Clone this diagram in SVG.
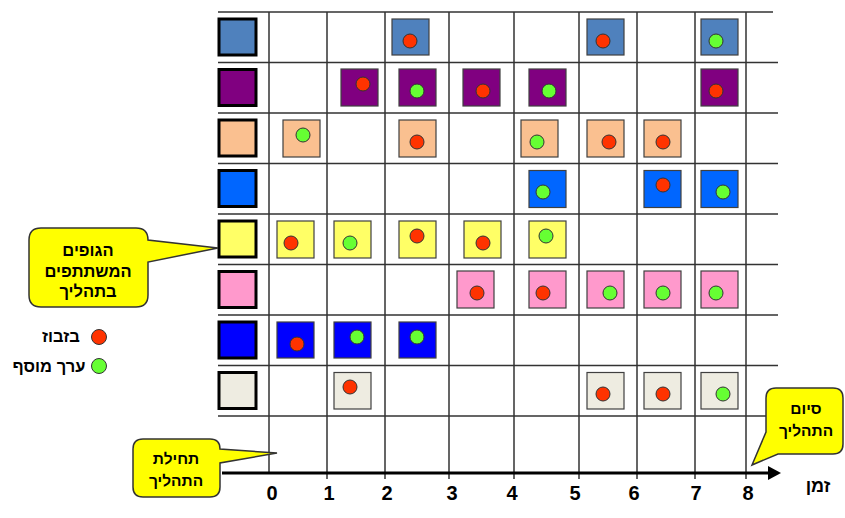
<svg xmlns="http://www.w3.org/2000/svg" width="845" height="518" viewBox="0 0 845 518">
<style>
.g{stroke:#333;stroke-width:1.5;fill:none}
.h{stroke:#000;stroke-width:3}
.s{stroke:#404040;stroke-width:1.2}
.r{fill:#FF3300;stroke:#333;stroke-width:1}
.gr{fill:#66FF33;stroke:#333;stroke-width:1}
.c{fill:#FFFF00;stroke:#333;stroke-width:1.5}
.t{font-family:"Liberation Sans",Arial,sans-serif;font-weight:bold;fill:#000}
.c1{fill:#4F81BD}.c2{fill:#800080}.c3{fill:#FAC090}.c4{fill:#0066FF}
.c5{fill:#FFFF66}.c6{fill:#FF99CC}.c7{fill:#0000FF}.c8{fill:#EEECE1}
</style>
<rect width="845" height="518" fill="#fff"/>
<g id="grid" class="g">
<path d="M218 12H773M218 62.5H778M218 113H778M218 163.5H778M218 214H778M218 264.5H778M218 315H778M218 365.5H778M218 416H778"/>
<path d="M269 12V473M327 12V479M385 12V479M449 12V479M514 12V479M579 12V479M637 12V479M695 12V479M746 12V479"/>
</g>
<g id="connectors">
<line x1="222" y1="473" x2="770" y2="473" stroke="#000" stroke-width="3"/>
<polygon points="768,466 781,473 768,480" fill="#000"/>
</g>
<g id="headers">
<g id="h1"><rect class="h c1" x="219" y="19" width="37" height="36"/></g>
<g id="h2"><rect class="h c2" x="219" y="69.5" width="37" height="36"/></g>
<g id="h3"><rect class="h c3" x="219" y="120" width="37" height="36"/></g>
<g id="h4"><rect class="h c4" x="219" y="170.5" width="37" height="36"/></g>
<g id="h5"><rect class="h c5" x="219" y="221" width="37" height="36"/></g>
<g id="h6"><rect class="h c6" x="219" y="271.5" width="37" height="36"/></g>
<g id="h7"><rect class="h c7" x="219" y="322" width="37" height="36"/></g>
<g id="h8"><rect class="h c8" x="219" y="372.5" width="37" height="36"/></g>
</g>
<g id="row1">
<g id="r1a"><rect class="s c1" x="392" y="19" width="37" height="36"/><circle class="r" cx="410" cy="41" r="7"/></g>
<g id="r1b"><rect class="s c1" x="587" y="19" width="37" height="36"/><circle class="r" cx="603" cy="41" r="7"/></g>
<g id="r1c"><rect class="s c1" x="701" y="19" width="37" height="36"/><circle class="gr" cx="716" cy="41" r="7"/></g>
</g>
<g id="row2">
<g id="r2a"><rect class="s c2" x="341" y="69" width="37" height="37"/><circle class="r" cx="363" cy="84" r="7"/></g>
<g id="r2b"><rect class="s c2" x="399" y="69" width="37" height="37"/><circle class="gr" cx="417" cy="91" r="7"/></g>
<g id="r2c"><rect class="s c2" x="463" y="69" width="37" height="37"/><circle class="r" cx="483" cy="91" r="7"/></g>
<g id="r2d"><rect class="s c2" x="529" y="69" width="37" height="37"/><circle class="gr" cx="549" cy="91" r="7"/></g>
<g id="r2e"><rect class="s c2" x="701" y="69" width="37" height="37"/><circle class="r" cx="716" cy="91" r="7"/></g>
</g>
<g id="row3">
<g id="r3a"><rect class="s c3" x="283" y="120" width="37" height="37"/><circle class="gr" cx="303" cy="135" r="7"/></g>
<g id="r3b"><rect class="s c3" x="399" y="120" width="37" height="37"/><circle class="r" cx="417" cy="142" r="7"/></g>
<g id="r3c"><rect class="s c3" x="521" y="120" width="37" height="37"/><circle class="gr" cx="537" cy="142" r="7"/></g>
<g id="r3d"><rect class="s c3" x="587" y="120" width="37" height="37"/><circle class="r" cx="609" cy="142" r="7"/></g>
<g id="r3e"><rect class="s c3" x="644" y="120" width="37" height="37"/><circle class="r" cx="663" cy="142" r="7"/></g>
</g>
<g id="row4">
<g id="r4a"><rect class="s c4" x="529" y="170.5" width="37" height="37"/><circle class="gr" cx="543" cy="192" r="7"/></g>
<g id="r4b"><rect class="s c4" x="644" y="170.5" width="37" height="37"/><circle class="r" cx="663" cy="185" r="7"/></g>
<g id="r4c"><rect class="s c4" x="701" y="170.5" width="37" height="37"/><circle class="gr" cx="723" cy="192" r="7"/></g>
</g>
<g id="row5">
<g id="r5a"><rect class="s c5" x="277" y="221" width="37" height="37"/><circle class="r" cx="291" cy="243" r="7"/></g>
<g id="r5b"><rect class="s c5" x="334" y="221" width="37" height="37"/><circle class="gr" cx="350" cy="243" r="7"/></g>
<g id="r5c"><rect class="s c5" x="399" y="221" width="37" height="37"/><circle class="r" cx="417" cy="236" r="7"/></g>
<g id="r5d"><rect class="s c5" x="464" y="221" width="37" height="37"/><circle class="r" cx="483" cy="243" r="7"/></g>
<g id="r5e"><rect class="s c5" x="529" y="221" width="37" height="37"/><circle class="gr" cx="546" cy="236" r="7"/></g>
</g>
<g id="row6">
<g id="r6a"><rect class="s c6" x="457" y="271" width="37" height="37"/><circle class="r" cx="477" cy="293" r="7"/></g>
<g id="r6b"><rect class="s c6" x="529" y="271" width="37" height="37"/><circle class="r" cx="543" cy="293" r="7"/></g>
<g id="r6c"><rect class="s c6" x="587" y="271" width="37" height="37"/><circle class="gr" cx="610" cy="293" r="7"/></g>
<g id="r6d"><rect class="s c6" x="644" y="271" width="37" height="37"/><circle class="gr" cx="663" cy="293" r="7"/></g>
<g id="r6e"><rect class="s c6" x="701" y="271" width="37" height="37"/><circle class="gr" cx="716" cy="293" r="7"/></g>
</g>
<g id="row7">
<g id="r7a"><rect class="s c7" x="277" y="322" width="37" height="36"/><circle class="r" cx="297" cy="344" r="7"/></g>
<g id="r7b"><rect class="s c7" x="334" y="322" width="37" height="36"/><circle class="gr" cx="357" cy="337" r="7"/></g>
<g id="r7c"><rect class="s c7" x="399" y="322" width="37" height="36"/><circle class="gr" cx="417" cy="337" r="7"/></g>
</g>
<g id="row8">
<g id="r8a"><rect class="s c8" x="334" y="372.5" width="37" height="36.5"/><circle class="r" cx="350" cy="387" r="7"/></g>
<g id="r8b"><rect class="s c8" x="587" y="372.5" width="37" height="36.5"/><circle class="r" cx="603" cy="394" r="7"/></g>
<g id="r8c"><rect class="s c8" x="644" y="372.5" width="37" height="36.5"/><circle class="r" cx="663" cy="394" r="7"/></g>
<g id="r8d"><rect class="s c8" x="701" y="372.5" width="37" height="36.5"/><circle class="gr" cx="723" cy="394" r="7"/></g>
</g>
<g id="callout-bodies">
<path class="c" d="M41 228H136Q148 228 148 240L218 248L148 262V295Q148 307 136 307H41Q29 307 29 295V240Q29 228 41 228Z"/>
<text class="t" font-size="16.5" text-anchor="middle" x="88" y="256">הגופים</text>
<text class="t" font-size="16.5" text-anchor="middle" x="88" y="277">המשתתפים</text>
<text class="t" font-size="16.5" text-anchor="middle" x="88" y="297">בתהליך</text>
</g>
<g id="callout-start">
<path class="c" d="M143 439H210Q220 439 220 449L277 453L220 463V487Q220 497 210 497H143Q133 497 133 487V449Q133 439 143 439Z"/>
<text class="t" font-size="15.5" text-anchor="middle" x="176" y="464">תחילת</text>
<text class="t" font-size="15.5" text-anchor="middle" x="176" y="486">התהליך</text>
</g>
<g id="callout-end">
<path class="c" d="M776 388H833Q843 388 843 398V444Q843 454 833 454H778L752 465L766 432V398Q766 388 776 388Z"/>
<text class="t" font-size="15.5" text-anchor="middle" x="806" y="414">סיום</text>
<text class="t" font-size="15.5" text-anchor="middle" x="806" y="436">התהליך</text>
</g>
<g id="legend">
<circle class="r" cx="99" cy="337" r="7.5"/>
<text class="t" font-size="16.5" text-anchor="middle" x="61" y="342">בזבוז</text>
<circle class="gr" cx="99" cy="366" r="7.5"/>
<text class="t" font-size="16.5" text-anchor="middle" x="49" y="372">ערך מוסף</text>
</g>
<g id="axis-labels" class="t" font-size="20" text-anchor="middle">
<text x="272" y="500">0</text>
<text x="329" y="500">1</text>
<text x="387" y="500">2</text>
<text x="452" y="500">3</text>
<text x="512" y="500">4</text>
<text x="575" y="500">5</text>
<text x="634" y="500">6</text>
<text x="696" y="500">7</text>
<text x="748" y="500">8</text>
<text x="818" y="492" font-size="18">זמן</text>
</g>
</svg>
